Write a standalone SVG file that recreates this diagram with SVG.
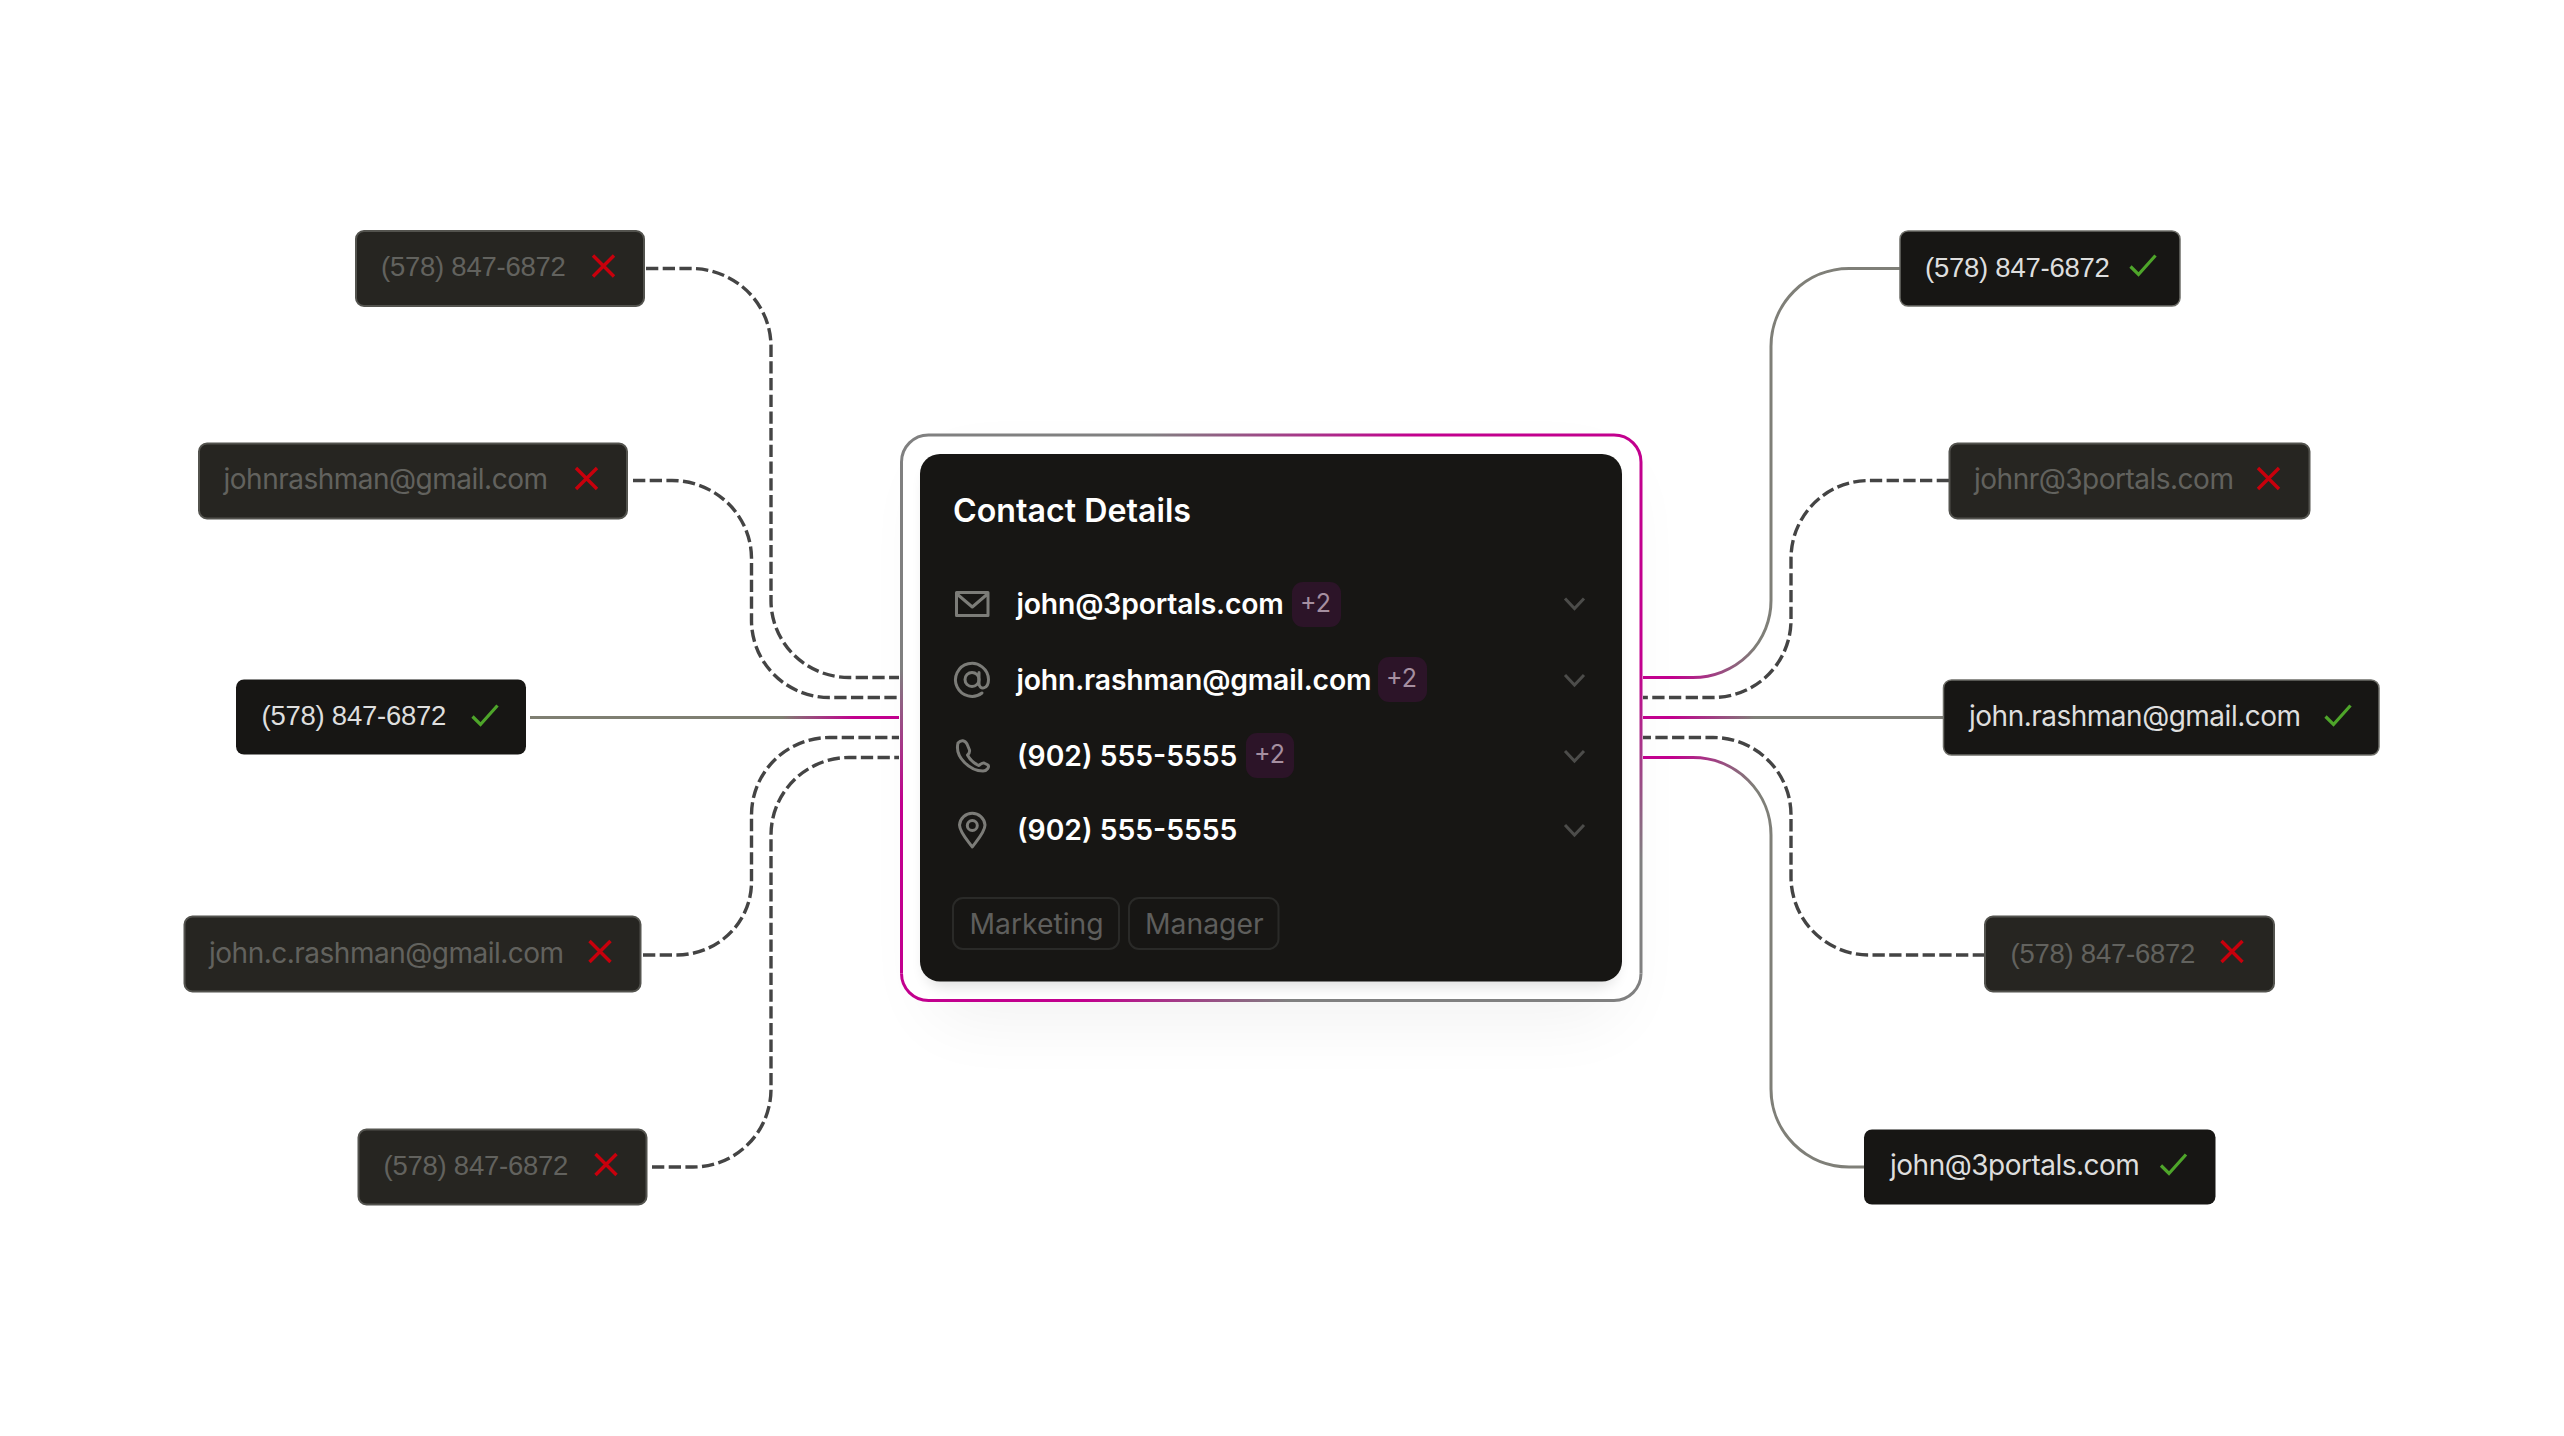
<svg xmlns="http://www.w3.org/2000/svg" width="2564" height="1436" viewBox="0 0 2564 1436">
<style>
text{font-family:Inter,"Noto Sans",sans-serif}
.bad rect{fill:#262521;stroke:#53534e;stroke-width:2}
.good rect{fill:#171614;stroke:#6e6e68;stroke-width:1.5}
.bad text{font-size:28px;letter-spacing:-.5px;fill:#62625e}
.good text{font-size:28px;letter-spacing:-.5px;fill:#dedede}
.bad text.ph,.good text.ph{font-family:"Liberation Sans",Arial,sans-serif;font-size:27.5px;letter-spacing:-.25px}
.x{fill:none;stroke:#c8000c;stroke-width:3.4}
.ok{fill:none;stroke:#4ea52a;stroke-width:3.2}
.dash{fill:none;stroke:#444;stroke-width:3.4;stroke-dasharray:12.3 4.4}
.sol{fill:none;stroke-width:3}
.row{font-size:28.300px;font-weight:600;fill:#fff}
.row.em{letter-spacing:-.15px}
.bdg rect{fill:#2c1428}
.bdg text{font-size:25px;fill:#a58fa0}
.ico{fill:none;stroke:#7c7c78;stroke-width:3;stroke-linejoin:round;stroke-linecap:round}
.chev{fill:none;stroke:#4c4c4a;stroke-width:3}
.tag rect{fill:none;stroke:#2a2a28;stroke-width:2}
.tag text{font-size:28.300px;fill:#5e5e5c}
</style>
<defs>
<filter id="sh" x="-30%" y="-30%" width="160%" height="170%"><feGaussianBlur stdDeviation="35"/></filter>
<filter id="sh2" x="-10%" y="-10%" width="120%" height="125%"><feGaussianBlur stdDeviation="7"/></filter>
<linearGradient id="gTop" gradientUnits="userSpaceOnUse" x1="1150" y1="0" x2="1415" y2="0"><stop offset="0" stop-color="#808080"/><stop offset="1" stop-color="#c2008e"/></linearGradient>
<linearGradient id="gBot" gradientUnits="userSpaceOnUse" x1="1084" y1="0" x2="1288" y2="0"><stop offset="0" stop-color="#c2008e"/><stop offset="1" stop-color="#808080"/></linearGradient>
<linearGradient id="gLeft" gradientUnits="userSpaceOnUse" x1="0" y1="669" x2="0" y2="803"><stop offset="0" stop-color="#808080"/><stop offset="1" stop-color="#c2008e"/></linearGradient>
<linearGradient id="gRight" gradientUnits="userSpaceOnUse" x1="0" y1="669" x2="0" y2="860"><stop offset="0" stop-color="#c2008e"/><stop offset="1" stop-color="#808080"/></linearGradient>
<linearGradient id="gL" gradientUnits="userSpaceOnUse" x1="782" y1="0" x2="854" y2="0"><stop offset="0" stop-color="#7f7f72"/><stop offset="1" stop-color="#c2008e"/></linearGradient>
<linearGradient id="gR" gradientUnits="userSpaceOnUse" x1="1672" y1="0" x2="1755" y2="0"><stop offset="0" stop-color="#c2008e"/><stop offset="1" stop-color="#7f7f78"/></linearGradient>
<path id="xm" class="x" d="M0 0L21 21M21 0L0 21"/>
<path id="ck" class="ok" d="M0 11L8 19L25 0"/>
<path id="cv" class="chev" d="M0 0L9.500 10L19 0"/>
</defs>

<g id="card-shadow"><rect x="930" y="470" width="690" height="550" rx="30" fill="#000" opacity=".05" filter="url(#sh)"/></g>

<g id="connectors">
<path class="dash" d="M646 268.500H691A80 78 0 0 1 771 346.500V600A78 77 0 0 0 849 677.500H899"/>
<path class="dash" d="M633 480.500H672A80 78 0 0 1 751.500 558V620A78 77 0 0 0 829.500 697.500H899"/>
<path class="sol" stroke="url(#gL)" d="M530 717.500H899"/>
<path class="dash" d="M643 955H677A75 73 0 0 0 751.500 882V815A78 77.500 0 0 1 829.500 737.500H899"/>
<path class="dash" d="M652 1167H693A78 78 0 0 0 771 1089V835A78 77.500 0 0 1 849 757.500H899"/>
<path class="sol" stroke="url(#gR)" d="M1900 268.500H1849A78 78 0 0 0 1771 346.500V600A78 77 0 0 1 1693 677.500H1643"/>
<path class="dash" d="M1949 480.500H1869A78 78 0 0 0 1791 558V620A78 77.500 0 0 1 1713 697.500H1643"/>
<path class="sol" stroke="url(#gR)" d="M1943 717.500H1643"/>
<path class="dash" d="M1985 955H1869A78 78 0 0 1 1791 877V815A78 77.500 0 0 0 1713 737.500H1643"/>
<path class="sol" stroke="url(#gR)" d="M1864 1167H1849A78 78 0 0 1 1771 1089V835A78 77.500 0 0 0 1693 757.500H1643"/>
</g>

<g id="card">
<rect x="901.500" y="435" width="739.500" height="565.500" rx="27" fill="#fff"/>
<rect x="925" y="465" width="692" height="522" rx="20" fill="#000" opacity=".12" filter="url(#sh2)"/>
<g fill="none" stroke-width="3">
<path stroke="url(#gTop)" d="M901.500 462A27 27 0 0 1 928.500 435H1614A27 27 0 0 1 1641 462"/>
<path stroke="url(#gRight)" d="M1641 462V973.500"/>
<path stroke="url(#gBot)" d="M901.500 973.500A27 27 0 0 0 928.500 1000.500H1614A27 27 0 0 0 1641 973.500"/>
<path stroke="url(#gLeft)" d="M901.500 462V973.500"/>
</g>
<rect x="920" y="454" width="702" height="527.500" rx="20" fill="#171614"/>
<text x="953" y="522" font-size="32.200" font-weight="600" fill="#fff">Contact Details</text>

<g id="row-email">
<path class="ico" d="M956.500 592.500H988V615.500H956.500ZM957 594L972.300 607L987.500 594"/>
<text class="row em" x="1016.500" y="614">john@3portals.com</text>
<g class="bdg"><rect x="1292" y="582" width="49" height="45" rx="11"/><text x="1300" y="612">+2</text></g>
<use href="#cv" x="1565" y="598.500"/>
</g>
<g id="row-at">
<path class="ico" d="M979 672.500V683.500C979 690 988.500 690 988.500 679.500A16.500 16.500 0 1 0 982 693"/>
<circle class="ico" cx="972" cy="679.500" r="7"/>
<text class="row em" x="1016.500" y="690">john.rashman@gmail.com</text>
<g class="bdg"><rect x="1378" y="657" width="49" height="45" rx="11"/><text x="1386" y="687">+2</text></g>
<use href="#cv" x="1565" y="675"/>
</g>
<g id="row-phone">
<path class="ico" d="M958 743C961 739.500 965 740 967 744L969.500 750C970 752 969 753.500 967.500 755C970 760 974 763.500 979 765.500C980.500 764 982 762.500 984 763L988 765C989.500 767 987 771 983 771C970 771 954.500 757 958 743Z"/>
<text class="row" x="1017" y="765.500">(902) 555-5555</text>
<g class="bdg"><rect x="1246" y="733" width="48" height="45" rx="11"/><text x="1254" y="763">+2</text></g>
<use href="#cv" x="1565" y="751"/>
</g>
<g id="row-pin">
<path class="ico" d="M972.300 847C968 841 959.500 832 959.500 825A12.800 12.800 0 0 1 985 825C985 832 976.500 841 972.300 847Z"/>
<circle class="ico" cx="972.300" cy="825.500" r="5"/>
<text class="row" x="1017" y="840">(902) 555-5555</text>
<use href="#cv" x="1565" y="825"/>
</g>
<g class="tag" id="tag-marketing"><rect x="953" y="898" width="166" height="51" rx="10"/><text x="969.500" y="934">Marketing</text></g>
<g class="tag" id="tag-manager"><rect x="1129" y="898" width="149.500" height="51" rx="10"/><text x="1145" y="934">Manager</text></g>
</g>

<g id="node-l1" class="bad"><rect x="356" y="231" width="288" height="75" rx="8"/><text class="ph" x="381" y="276">(578) 847-6872</text><use href="#xm" x="593" y="255.500"/></g>
<g id="node-l2" class="bad"><rect x="199" y="443.500" width="428" height="75" rx="8"/><text x="223.500" y="489">johnrashman@gmail.com</text><use href="#xm" x="576" y="468"/></g>
<g id="node-l3" class="good"><rect x="236" y="679.500" width="290" height="75" rx="8" style="stroke:none"/><text class="ph" x="261.500" y="725">(578) 847-6872</text><use href="#ck" x="472.500" y="705.500"/></g>
<g id="node-l4" class="bad"><rect x="184.500" y="916.500" width="456" height="75" rx="8"/><text x="209" y="962.500">john.c.rashman@gmail.com</text><use href="#xm" x="589.500" y="941"/></g>
<g id="node-l5" class="bad"><rect x="358.500" y="1129.500" width="288" height="75" rx="8"/><text class="ph" x="383.500" y="1175">(578) 847-6872</text><use href="#xm" x="595.500" y="1154"/></g>
<g id="node-r1" class="good"><rect x="1900" y="231" width="280" height="75" rx="8"/><text class="ph" x="1925" y="276.500">(578) 847-6872</text><use href="#ck" x="2130.500" y="255.500"/></g>
<g id="node-r2" class="bad"><rect x="1949.500" y="443.500" width="360" height="75" rx="8"/><text x="1974" y="489">johnr@3portals.com</text><use href="#xm" x="2258" y="468"/></g>
<g id="node-r3" class="good"><rect x="1943.500" y="680" width="435.500" height="75" rx="8"/><text x="1969" y="726">john.rashman@gmail.com</text><use href="#ck" x="2325.500" y="705.500"/></g>
<g id="node-r4" class="bad"><rect x="1985" y="916.500" width="289" height="75" rx="8"/><text class="ph" x="2010.500" y="962.500">(578) 847-6872</text><use href="#xm" x="2221.500" y="941"/></g>
<g id="node-r5" class="good"><rect x="1864" y="1129.500" width="351.500" height="75" rx="8" style="stroke:none"/><text x="1890" y="1175">john@3portals.com</text><use href="#ck" x="2161" y="1154.500"/></g>
</svg>
